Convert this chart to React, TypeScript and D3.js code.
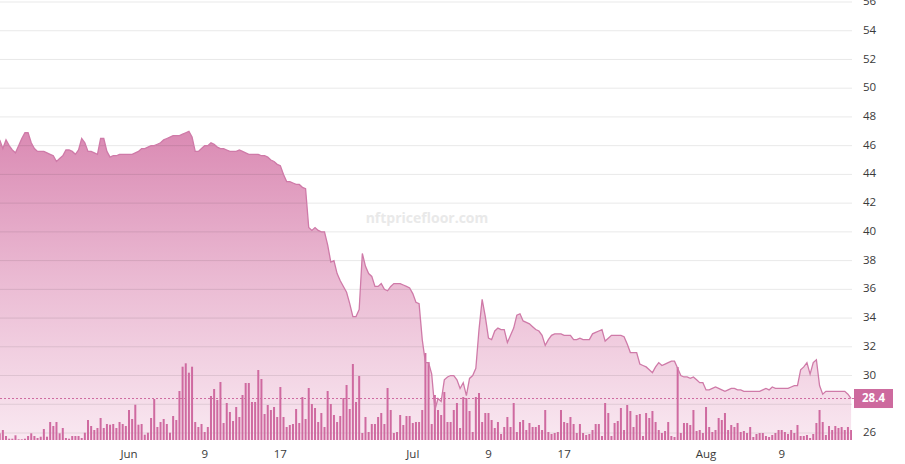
import React from 'react';
import * as d3 from 'd3';

const W = 905;
const H = 464;

// 8-hourly samples starting 18 May, 08:00
const startTime = new Date(2022, 4, 18, 8, 0);
const stepHours = 8;

const priceValues = [
  46.4, 45.8, 46.4, 46.0, 45.7, 45.5, 46.0, 46.5, 46.9, 46.9,
  46.2, 45.8, 45.6, 45.6, 45.6, 45.5, 45.4, 45.3, 44.9, 45.1,
  45.3, 45.7, 45.7, 45.6, 45.4, 45.7, 46.5, 46.2, 45.6, 45.6,
  45.5, 45.4, 46.5, 46.5, 45.6, 45.2, 45.3, 45.3, 45.4, 45.4,
  45.4, 45.4, 45.4, 45.5, 45.6, 45.8, 45.8, 45.9, 46.0, 46.0,
  46.1, 46.2, 46.4, 46.5, 46.6, 46.7, 46.7, 46.7, 46.8, 46.9,
  47.0, 46.6, 45.6, 45.6, 45.8, 46.0, 46.0, 46.2, 46.1, 45.9,
  45.8, 45.8, 45.7, 45.6, 45.6, 45.6, 45.7, 45.6, 45.5, 45.4,
  45.4, 45.4, 45.4, 45.3, 45.3, 45.2, 45.0, 44.9, 44.7, 44.6,
  44.0, 43.5, 43.5, 43.4, 43.3, 43.3, 43.1, 43.0, 40.3, 40.1,
  40.3, 40.1, 40.0, 40.0, 39.1, 37.9, 38.0, 37.1, 36.6, 36.2,
  35.8, 35.0, 34.1, 34.1, 34.6, 38.5, 37.6, 37.1, 36.9, 36.2,
  36.2, 36.4, 36.0, 35.9, 36.2, 36.4, 36.4, 36.4, 36.3, 36.2,
  36.1, 35.7, 35.1, 35.0, 32.5, 30.9, 30.9, 30.1, 27.6, 28.4,
  28.2, 29.7, 29.9, 30.0, 30.0, 29.7, 29.1, 29.5, 28.6, 29.8,
  30.0, 30.5, 33.2, 35.3, 34.1, 32.6, 32.5, 33.1, 33.3, 33.2,
  33.2, 32.3, 32.8, 33.3, 34.2, 34.3, 33.8, 33.7, 33.6, 33.4,
  33.2, 33.1, 32.8, 32.1, 32.5, 32.8, 32.9, 32.9, 32.9, 32.8,
  32.8, 32.8, 32.5, 32.5, 32.6, 32.5, 32.5, 32.5, 32.9, 33.0,
  33.1, 33.2, 32.4, 32.6, 32.8, 32.8, 32.8, 32.8, 32.7, 32.2,
  31.6, 31.6, 31.6, 30.8, 30.7, 30.6, 30.4, 30.2, 30.6, 30.9,
  30.7, 30.8, 30.9, 31.0, 31.0, 30.5, 30.0, 29.9, 29.9, 29.8,
  29.9, 29.7, 29.5, 29.5, 29.0, 29.0, 29.1, 29.2, 29.1, 29.0,
  28.9, 29.0, 29.1, 29.1, 29.0, 29.0, 28.9, 28.9, 28.9, 28.9,
  28.9, 28.9, 29.0, 29.1, 29.0, 29.2, 29.1, 29.1, 29.1, 29.1,
  29.1, 29.2, 29.3, 29.3, 30.4, 30.6, 30.9, 30.1, 30.9, 31.1,
  29.3, 28.7, 28.9, 28.9, 28.9, 28.9, 28.9, 28.9, 28.9, 28.7,
  28.4,
];

const volumeValues = [
  6.7, 10, 4, 1.3, 1.3, 4.7, 0.7, 0.7, 1.3, 4,
  6.7, 4, 2, 3.3, 11, 3.3, 18, 14, 18, 6.7,
  12, 2, 1.3, 4, 4, 4, 2, 7.3, 20, 14,
  10, 12, 22, 12, 16, 15.3, 16, 12, 18, 16,
  14, 30, 21, 35.3, 15.3, 16, 5.3, 7.3, 22, 41,
  13, 18, 21, 16, 7.3, 24, 20, 49, 73.3, 76.7,
  67.3, 73.3, 18, 13, 16, 8, 13, 44, 51, 40,
  58, 17, 37, 28, 19, 33, 23, 45, 57, 57,
  38, 38, 70, 61, 26, 35, 30, 33, 23, 53,
  23, 13, 15, 16, 31, 17, 43, 21, 52, 36,
  32, 18, 27, 13, 49, 36, 25, 18, 24, 42,
  55, 31, 76, 38, 64, 7, 23, 8, 16, 16,
  23, 27, 16, 52, 30, 7, 8, 25, 15, 24,
  24, 17, 18, 18, 30, 87, 78, 16, 45, 30,
  25, 48, 18, 18, 30, 37, 12, 43, 42, 29,
  8, 43, 47, 18, 27, 27, 20, 12, 18, 6,
  13, 23, 13, 37, 8, 18, 20, 10, 17, 13,
  13, 15, 10, 30, 8, 6, 7, 8, 30, 18,
  17, 23, 16, 7, 16, 7, 5, 6, 10, 16,
  16, 4, 37, 27, 4, 17, 19, 32, 10, 35,
  29, 13, 25, 26, 4, 27, 22, 29, 18, 10,
  7, 9, 18, 4, 3, 73, 7, 17, 17, 15,
  30, 9, 10, 7, 33, 13, 8, 10, 22, 20,
  27, 10, 15, 13, 17, 8, 9, 7, 13, 3,
  6, 7, 7, 4, 3, 5, 7, 10, 10, 8,
  6, 10, 7, 15, 4, 4, 5, 2, 6, 17,
  30, 18, 5, 14, 10, 14, 12, 13, 10, 13,
  10,
];

const yTickValues = [26, 28, 30, 32, 34, 36, 38, 40, 42, 44, 46, 48, 50, 52, 54, 56];
const xTickDates = [
  new Date(2022, 5, 1), new Date(2022, 5, 9), new Date(2022, 5, 17),
  new Date(2022, 6, 1), new Date(2022, 6, 9), new Date(2022, 6, 17),
  new Date(2022, 7, 1), new Date(2022, 7, 9),
];
const xTickLabels = ['Jun', '9', '17', 'Jul', '9', '17', 'Aug', '9'];
const watermarkText = 'nftpricefloor.com';

type Pt = { t: Date; p: number; v: number };

export default function App() {
  const plotRight = 852;
  const plotBottom = 440;

  const x = d3
    .scaleTime()
    .domain([new Date(2022, 4, 18, 8, 44), new Date(2022, 7, 16, 10, 19)])
    .range([0, plotRight]);
  const y = d3.scaleLinear().domain([26, 56]).range([433, 2]);
  const yVol = d3.scaleLinear().domain([0, 100]).range([plotBottom, plotBottom - 100]);

  const data: Pt[] = priceValues.map((p, i) => ({
    t: new Date(startTime.getTime() + i * stepHours * 3600 * 1000),
    p,
    v: volumeValues[i] ?? 0,
  }));

  const area = d3
    .area<Pt>()
    .x((d) => x(d.t))
    .y0(plotBottom)
    .y1((d) => y(d.p));
  const line = d3
    .line<Pt>()
    .x((d) => x(d.t))
    .y((d) => y(d.p));

  const last = data[data.length - 1];
  const lastY = y(last.p);
  const font = "'Segoe UI', 'Open Sans', 'Noto Sans', sans-serif";

  return (
    <div style={{ position: 'absolute', left: 0, top: 0 }}>
      <svg width={W} height={H} style={{ display: 'block', background: '#fff' }}>
        <defs>
          <linearGradient id="areaGrad" gradientUnits="userSpaceOnUse" x1="0" y1="130" x2="0" y2={plotBottom}>
            <stop offset="0" stopColor="#da8ab3" />
            <stop offset="0.5" stopColor="#ebbcd4" />
            <stop offset="1" stopColor="#f9e8f1" />
          </linearGradient>
          <clipPath id="plotClip">
            <rect x={0} y={0} width={plotRight} height={plotBottom} />
          </clipPath>
        </defs>

        <g clipPath="url(#plotClip)">
          <path d={area(data) ?? ''} fill="url(#areaGrad)" />
        </g>

        {yTickValues.map((v) => (
          <line
            key={'g' + v}
            x1={0}
            x2={plotRight}
            y1={y(v)}
            y2={y(v)}
            stroke="#000"
            strokeOpacity={0.09}
            strokeWidth={1}
          />
        ))}

        <text
          x={x(new Date(2022, 6, 2, 12))}
          y={223}
          textAnchor="middle"
          fontFamily={font}
          fontWeight={700}
          fontSize={14}
          fill="#e9e9e9"
        >
          {watermarkText}
        </text>

        <g clipPath="url(#plotClip)">
          {data.map((d, i) => (
            <rect
              key={'b' + i}
              x={x(d.t) - 1}
              y={yVol(d.v)}
              width={2}
              height={plotBottom - yVol(d.v)}
              fill="#cf6aa0"
            />
          ))}
          <path d={line(data) ?? ''} fill="none" stroke="#cf7aa8" strokeWidth={1.3} />
        </g>

        <line
          x1={0}
          x2={plotRight + 3}
          y1={lastY}
          y2={lastY}
          stroke="#cf6aa0"
          strokeWidth={1}
          strokeDasharray="2 2"
        />

        {yTickValues
          .filter((v) => Math.abs(y(v) - lastY) > 14)
          .map((v) => (
            <text
              key={'t' + v}
              x={863}
              y={y(v)}
              dominantBaseline="middle"
              fontFamily={font}
              fontSize={11.5}
              fill="#3a3a3a"
            >
              {v}
            </text>
          ))}

        <rect x={854} y={lastY - 9.5} width={39} height={19} fill="#cd6a9e" />
        <text
          x={873.5}
          y={lastY}
          textAnchor="middle"
          dominantBaseline="middle"
          fontFamily={font}
          fontWeight={700}
          fontSize={11.5}
          fill="#fff"
        >
          {last.p.toFixed(1)}
        </text>

        {xTickDates.map((d, i) => (
          <text
            key={'x' + i}
            x={x(d)}
            y={455}
            textAnchor="middle"
            dominantBaseline="middle"
            fontFamily={font}
            fontSize={11.5}
            fill="#3a3a3a"
          >
            {xTickLabels[i]}
          </text>
        ))}
      </svg>
    </div>
  );
}
